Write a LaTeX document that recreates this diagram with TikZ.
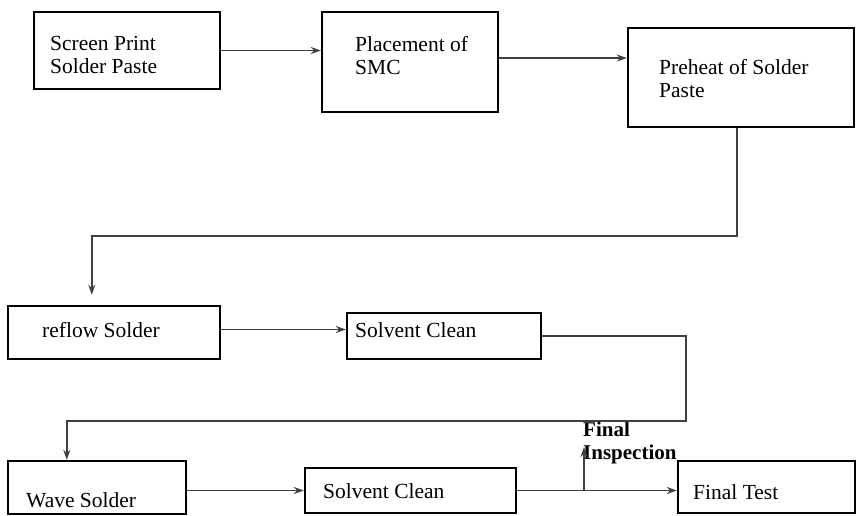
\documentclass[tikz,border=0pt]{standalone}
\usepackage{fontspec}
\setmainfont{Liberation Serif}
\usetikzlibrary{arrows.meta, positioning, calc}

\begin{document}
\begin{tikzpicture}[x=1pt, y=-1pt,
		stepbox/.style={draw=black, line width=2.4pt, inner sep=0pt},
		steptext/.style={anchor=west, inner sep=0pt, align=left, font=\fontsize{21.5}{23}\selectfont},
		flow/.style={draw=black!75, line width=1.5pt, -{Stealth[length=10pt, width=7pt]}}]
	
	\useasboundingbox (0,0) rectangle (860,515);
	
	% Boxes
	\foreach \name/\cx/\cy/\w/\h in {print/127/50.5/186/77, place/410/62/176/100,
		preheat/741/77.5/226/99, reflow/114/332.5/212/53, solvA/444/336/194/46,
		wave/97/487.5/178/53, solvB/410.5/490.5/211/45, final/766.5/487/177/52} {
		\node[stepbox, minimum width=\w pt, minimum height=\h pt] (\name) at (\cx,\cy) {};
	}
	
	% Texts
	\node[steptext] (print-t) at (50,54.5) {Screen Print\\Solder Paste};
	\node[steptext] (place-t) at (355,55.5) {Placement of\\SMC};
	\node[steptext] (preheat-t) at (659,79) {Preheat of Solder\\Paste};
	\node[steptext] (reflow-t) at (42,330) {reflow Solder};
	\node[steptext] (solvA-t) at (355,330) {Solvent Clean};
	\node[steptext] (wave-t) at (26,500) {Wave Solder};
	\node[steptext] (solvB-t) at (323,491) {Solvent Clean};
	\node[steptext] (final-t) at (693,492) {Final Test};
	\node[steptext, font=\fontsize{21}{23}\selectfont\bfseries] (inspect) at (583,442.5) {Final\\Inspection};
	
	% Connectors
	\coordinate (turnA) at (737,236);
	\coordinate (turnB) at (686,421);
	\coordinate (split) at (584,491);
	\coordinate (inspTip) at (584,447);
	
	\draw[flow] (print.east) -- (print.east -| place.west);
	\draw[flow] ([yshift=4pt]place.east) -- ([yshift=4pt]place.east -| preheat.west);
	\draw[flow, shorten >=10pt] (turnA |- preheat.south) -- (turnA) -| ([xshift=85pt]reflow.north west);
	\draw[flow] ([yshift=3pt]reflow.east) -- ([yshift=3pt]reflow.east -| solvA.west);
	\draw[flow] (solvA.east) -| (turnB) -| ([xshift=60pt]wave.north west);
	\draw[flow] ([yshift=-3pt]wave.east) -- ([yshift=-3pt]wave.east -| solvB.west);
	\draw[flow] (solvB.east) -- (solvB.east -| final.west);
	\draw[flow] (split) -- (inspTip);
	
\end{tikzpicture}
\end{document}
